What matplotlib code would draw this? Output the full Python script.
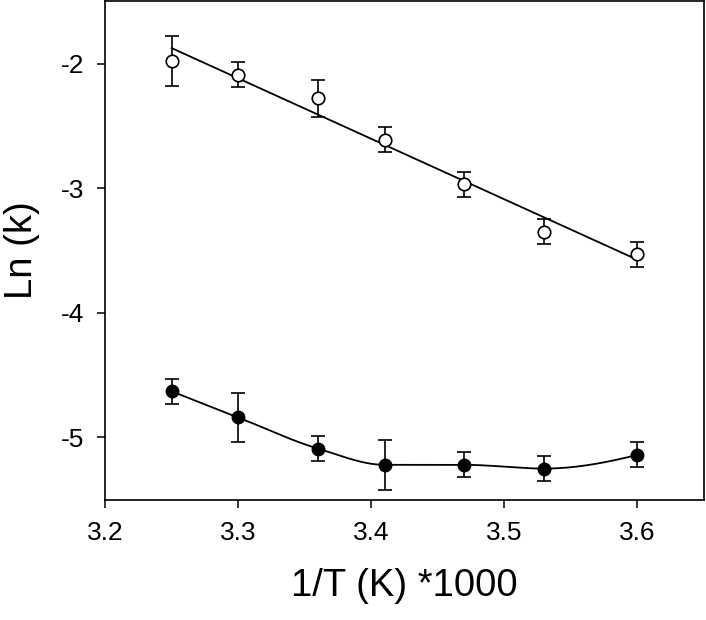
import numpy as np
import matplotlib
matplotlib.use("Agg")
import matplotlib.pyplot as plt

plt.rcParams['font.family'] = ['Liberation Sans', 'DejaVu Sans']

# 1/T (K) * 1000
inv_t = [3.25, 3.30, 3.36, 3.41, 3.47, 3.53, 3.60]

# open circles (upper series)
ln_k_open = [-1.98, -2.09, -2.28, -2.61, -2.97, -3.35, -3.53]
err_open = [0.20, 0.10, 0.15, 0.10, 0.10, 0.10, 0.10]

# filled circles (lower series)
ln_k_fill = [-4.63, -4.84, -5.09, -5.22, -5.22, -5.25, -5.14]
err_fill = [0.10, 0.20, 0.10, 0.20, 0.10, 0.10, 0.10]

x_ticks = [3.2, 3.3, 3.4, 3.5, 3.6]
y_ticks = [-5, -4, -3, -2]


def pchip(x, y, xs):
    # monotone cubic hermite curve through the points
    x = np.asarray(x, float)
    y = np.asarray(y, float)
    h = np.diff(x)
    d = np.diff(y) / h
    n = len(x)
    m = np.zeros(n)
    for i in range(1, n - 1):
        if d[i - 1] * d[i] > 0:
            w1 = 2 * h[i] + h[i - 1]
            w2 = h[i] + 2 * h[i - 1]
            m[i] = (w1 + w2) / (w1 / d[i - 1] + w2 / d[i])
    m[0] = ((2 * h[0] + h[1]) * d[0] - h[0] * d[1]) / (h[0] + h[1])
    if np.sign(m[0]) != np.sign(d[0]):
        m[0] = 0
    m[-1] = ((2 * h[-1] + h[-2]) * d[-1] - h[-1] * d[-2]) / (h[-1] + h[-2])
    if np.sign(m[-1]) != np.sign(d[-1]):
        m[-1] = 0
    idx = np.clip(np.searchsorted(x, xs) - 1, 0, n - 2)
    t = (xs - x[idx]) / h[idx]
    h00 = 2 * t**3 - 3 * t**2 + 1
    h10 = t**3 - 2 * t**2 + t
    h01 = -2 * t**3 + 3 * t**2
    h11 = t**3 - t**2
    return (h00 * y[idx] + h10 * h[idx] * m[idx]
            + h01 * y[idx + 1] + h11 * h[idx] * m[idx + 1])


fig = plt.figure(figsize=(7.06, 6.2), dpi=100)
ax = fig.add_axes([0.149, 0.194, 0.848, 0.804])

# linear fit for the open series
coef = np.polyfit(inv_t, ln_k_open, 1)
xl = np.array([inv_t[0], inv_t[-1]])
ax.plot(xl, np.polyval(coef, xl), color='black', lw=1.3, zorder=2)

# smooth curve for the filled series
xs = np.linspace(inv_t[0], inv_t[-1], 200)
ax.plot(xs, pchip(inv_t, ln_k_fill, xs), color='black', lw=1.3, zorder=2)

ax.errorbar(inv_t, ln_k_open, yerr=err_open, fmt='o', mfc='white', mec='black',
            mew=1.2, ms=9, ecolor='black', elinewidth=1.2, capsize=5, capthick=1.2,
            zorder=3)
ax.errorbar(inv_t, ln_k_fill, yerr=err_fill, fmt='o', mfc='black', mec='black',
            ms=9, ecolor='black', elinewidth=1.2, capsize=5, capthick=1.2,
            zorder=3)

ax.set_xlim(3.2, 3.65)
ax.set_ylim(-5.5, -1.5)
ax.set_xticks(x_ticks)
ax.set_yticks(y_ticks)
ax.set_xticklabels([f'{v:.1f}' for v in x_ticks])
ax.set_yticklabels([str(v) for v in y_ticks])
ax.tick_params(direction='out', length=6, width=1.1, labelsize=19, pad=9)
for s in ax.spines.values():
    s.set_linewidth(1.2)

ax.set_xlabel('1/T (K) *1000', fontsize=27.5, labelpad=17)
ax.set_ylabel('Ln (k)', fontsize=27.5, labelpad=15)

fig.savefig('out.png', dpi=100)
